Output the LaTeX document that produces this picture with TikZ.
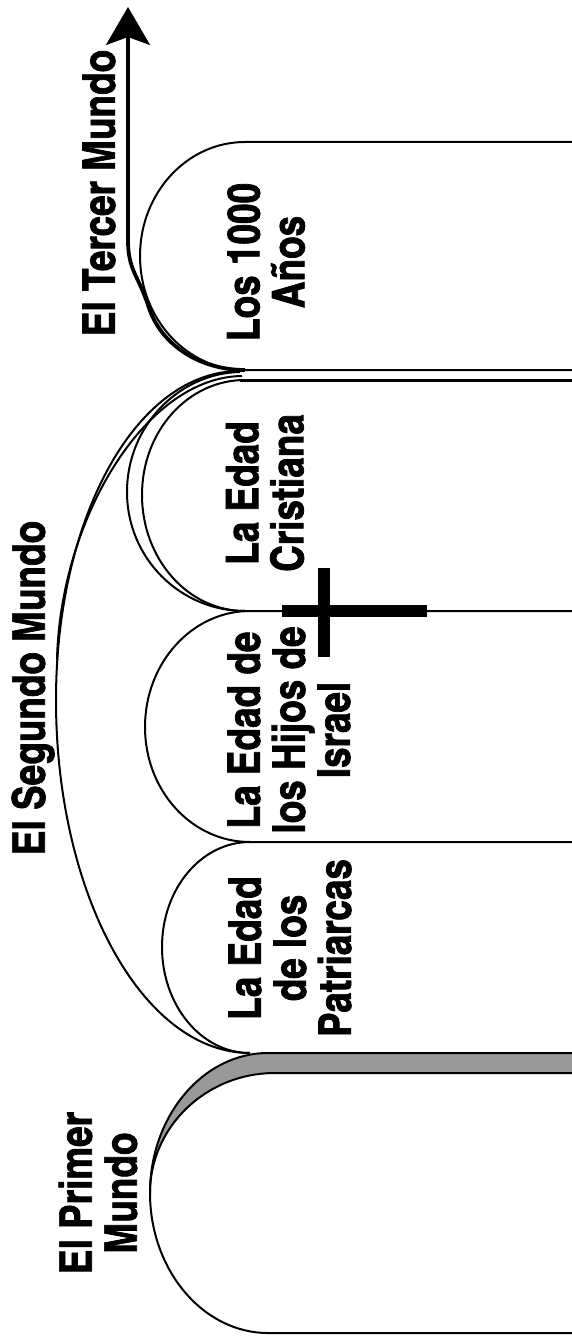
\documentclass[tikz,border=0pt]{standalone}
\usepackage{fontspec}
\setmainfont{texgyreheroscn-bold.otf}[FakeBold=1.6]
\usetikzlibrary{arrows.meta}
\definecolor{bandgray}{HTML}{999999}
\begin{document}
\begin{tikzpicture}[x=1pt,y=-1pt,
  edge/.style={line width=2pt, line join=round},
  thickedge/.style={line width=3pt},
  lbl/.style={font=\fontsize{45}{45}\selectfont, rotate=90, align=center, inner sep=0pt},
  crossbar/.style={fill=black},
  arrowline/.style={line width=3.8pt, -{Stealth[length=38pt,width=44pt,inset=8pt]}}]
\useasboundingbox (0,0) rectangle (572,1340);
\fill[white] (0,0) rectangle (572,1340);

% El Primer Mundo (gray band)
\fill[bandgray] (572,1053) -- (268,1053) .. controls (203,1053) and (150,1116) .. (150,1193)
   .. controls (150,1127) and (206,1073) .. (275,1073) -- (572,1073) -- cycle;
\draw[edge] (572,1053) -- (268,1053) .. controls (203,1053) and (150,1116) .. (150,1193)
   .. controls (150,1270) and (203,1333) .. (268,1333) -- (572,1333);
\draw[edge] (572,1073) -- (275,1073) .. controls (206,1073) and (150,1127) .. (150,1193);

% Patriarcas
\draw[edge] (250,842) .. controls (201,842) and (162,889) .. (162,947)
   .. controls (162,1005) and (201,1053) .. (250,1053);

% Hijos de Israel
\draw[edge] (572,842) -- (250,842) .. controls (192,842) and (145,791) .. (145,727)
   .. controls (145,663) and (192,611) .. (250,611) -- (572,611);

% Edad Cristiana (double arc)
\draw[edge] (245,611) .. controls (180,611) and (127,558) .. (127,492)
   .. controls (127,425) and (180,373) .. (240,372);
\draw[edge] (245,611) .. controls (188,611) and (142,559) .. (142,495)
   .. controls (142,431) and (188,380) .. (245,380);
\draw[thickedge] (240,380) -- (572,380);

% Los 1000 Anos
\draw[edge] (572,142) -- (245,142) .. controls (187,142) and (140,193) .. (140,256)
   .. controls (140,319) and (187,370) .. (245,370) -- (572,370);

% El Segundo Mundo (big arc, doubled near top)
\draw[edge] (250,1053) .. controls (143,1053) and (56,895) .. (56,700)
   .. controls (56,518) and (136,371) .. (240,371);
\draw[edge] (57,660) .. controls (60,520) and (145,377) .. (242,376);

% Cross
\fill[crossbar] (282,605) rectangle (427,617);
\fill[crossbar] (318,568) rectangle (330,657);

% El Tercer Mundo arrow
\draw[arrowline] (245,370) .. controls (200,370) and (160,345) .. (148,305)
   .. controls (138,275) and (128,270) .. (128,240) -- (128,7);

% Labels
\node[lbl] (tercer) at (99,193) {El Tercer Mundo};
\node[lbl] (milenio) at (266,262) {Los 1000\\Años};
\node[lbl] (cristiana) at (265,493) {La Edad\\Cristiana};
\node[lbl] (israel) at (289,730) {La Edad de\\los Hijos de\\Israel};
\node[lbl] (patriarcas) at (290,948) {La Edad\\de los\\Patriarcas};
\node[lbl] (primer) at (98,1193) {El Primer\\Mundo};
\node[lbl] (segundo) at (33,688) {El Segundo Mundo};
\end{tikzpicture}
\end{document}
